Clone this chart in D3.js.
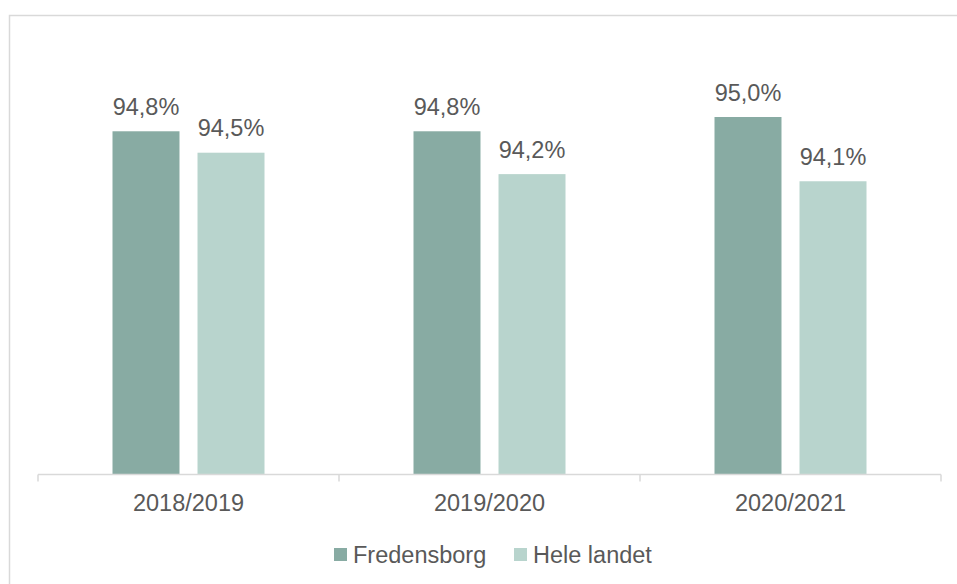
<!DOCTYPE html>
<html>
<head>
<meta charset="utf-8">
<script src="https://cdn.jsdelivr.net/npm/d3@7/dist/d3.min.js"></script>
<style>
  html, body { margin: 0; padding: 0; background: #fff; }
  svg text { font-family: "Liberation Sans", Arial, sans-serif; fill: #595959; }
</style>
</head>
<body>
<script>
var categories = ['2018/2019', '2019/2020', '2020/2021'];
var seriesNames = ['Fredensborg', 'Hele landet'];
var fredensborg = [94.8, 94.8, 95.0];
var heleLandet = [94.5, 94.2, 94.1];
var seriesColors = ['#88aba3', '#b8d4cd'];

var W = 957, H = 584;
var fontSize = 23.5;

var svg = d3.select('body').append('svg')
  .attr('width', W)
  .attr('height', H);

// chart frame (right and bottom edges run off the image)
svg.append('rect')
  .attr('x', 9.5)
  .attr('y', 15.5)
  .attr('width', 980)
  .attr('height', 620)
  .attr('fill', 'none')
  .attr('stroke', '#d9d9d9')
  .attr('stroke-width', 1.5);

var x0 = d3.scaleBand()
  .domain(categories)
  .range([38, 941])
  .padding(0);

var x1 = d3.scaleBand()
  .domain(seriesNames)
  .range([74.5, 226.5])
  .paddingInner(0.212)
  .paddingOuter(0);

var y = d3.scaleLinear()
  .domain([90, 96])
  .range([474, 45.6]);

var rows = categories.map(function(c, i) {
  return { cat: c, vals: [fredensborg[i], heleLandet[i]] };
});

var groups = svg.selectAll('.group')
  .data(rows)
  .enter()
  .append('g')
    .attr('transform', function(d) { return 'translate(' + x0(d.cat) + ',0)'; });

groups.selectAll('rect')
  .data(function(d) { return d.vals.map(function(v, j) { return { s: seriesNames[j], v: v, j: j }; }); })
  .enter()
  .append('rect')
    .attr('x', function(d) { return x1(d.s); })
    .attr('y', function(d) { return y(d.v); })
    .attr('width', x1.bandwidth())
    .attr('height', function(d) { return y(90) - y(d.v); })
    .attr('fill', function(d) { return seriesColors[d.j]; });

groups.selectAll('.lbl')
  .data(function(d) { return d.vals.map(function(v, j) { return { s: seriesNames[j], v: v }; }); })
  .enter()
  .append('text')
    .attr('x', function(d) { return x1(d.s) + x1.bandwidth() / 2; })
    .attr('y', function(d) { return y(d.v) - 16.5; })
    .attr('text-anchor', 'middle')
    .style('font-size', fontSize + 'px')
    .text(function(d) { return d.v.toFixed(1).replace('.', ',') + '%'; });

// x axis
var axis = svg.append('g')
  .attr('transform', 'translate(0,474.5)');

axis.append('line')
  .attr('x1', 38).attr('x2', 941)
  .attr('stroke', '#d9d9d9')
  .attr('stroke-width', 1.5);

axis.selectAll('.tick')
  .data(categories.concat(['end']))
  .enter()
  .append('line')
    .attr('x1', function(d) { return d === 'end' ? 941 : x0(d); })
    .attr('x2', function(d) { return d === 'end' ? 941 : x0(d); })
    .attr('y1', 0)
    .attr('y2', 7)
    .attr('stroke', '#d9d9d9')
    .attr('stroke-width', 1.5);

axis.selectAll('.catlbl')
  .data(categories)
  .enter()
  .append('text')
    .attr('x', function(d) { return x0(d) + x0.bandwidth() / 2; })
    .attr('y', 36.5)
    .attr('text-anchor', 'middle')
    .style('font-size', fontSize + 'px')
    .text(function(d) { return d; });

// legend
var legendX = [334, 514];
var legend = svg.append('g');
seriesNames.forEach(function(name, i) {
  legend.append('rect')
    .attr('x', legendX[i])
    .attr('y', 548)
    .attr('width', 13)
    .attr('height', 13)
    .attr('fill', seriesColors[i]);
  legend.append('text')
    .attr('x', legendX[i] + 19)
    .attr('y', 563)
    .style('font-size', fontSize + 'px')
    .text(name);
});
</script>
</body>
</html>
